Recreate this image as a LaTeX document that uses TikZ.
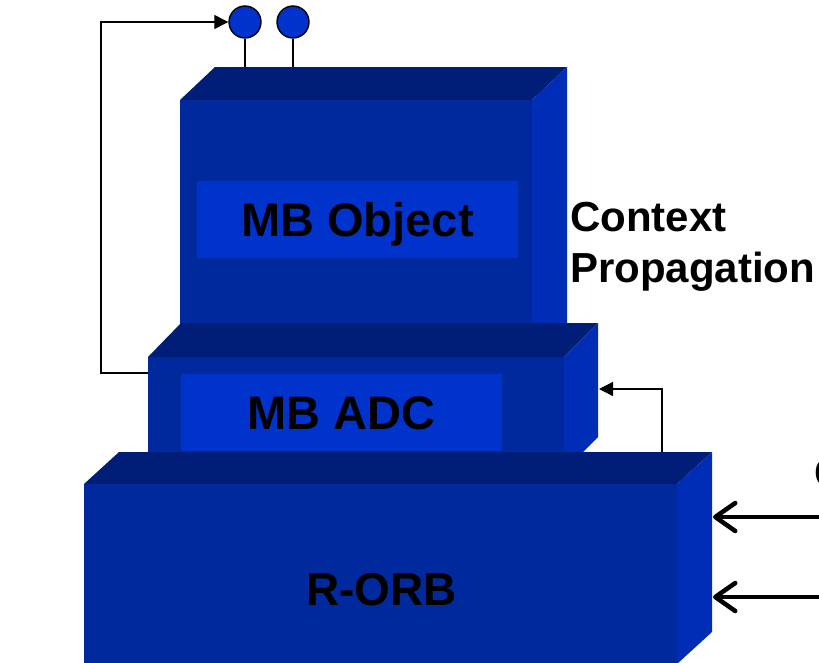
\documentclass[tikz,border=0pt]{standalone}
\usepackage{fontspec}
\setmainfont{Liberation Sans}
\usetikzlibrary{arrows.meta}
\definecolor{frontblue}{HTML}{00299E}
\definecolor{sideblue}{HTML}{002DB6}
\definecolor{topblue}{HTML}{001E78}
\definecolor{labelblue}{HTML}{0032CC}
\tikzset{
  frontface/.style={fill=frontblue, draw=none, inner sep=0pt, outer sep=0pt},
  topface/.style={fill=topblue},
  sideface/.style={fill=sideblue},
  labelbox/.style={fill=labelblue, draw=none, inner sep=0pt, outer sep=0pt,
    font=\fontsize{47}{50}\selectfont\bfseries, text height=34pt, text depth=0pt},
  pinball/.style={circle, fill=labelblue, draw=black, line width=1.4pt,
    minimum size=32pt, inner sep=0pt},
  thin link/.style={draw=black, line width=1.3pt},
  feed/.style={thin link, -{Triangle[length=14pt,width=14pt]}},
  inflow/.style={draw=black, line width=4.5pt,
    -{Straight Barb[length=20pt,width=28pt,line cap=round,line join=round]}},
  note/.style={font=\fontsize{42}{48}\selectfont\bfseries, inner sep=0pt, align=left}
}
\begin{document}
\begin{tikzpicture}[x=1pt, y=-1pt]
\useasboundingbox (0,0) rectangle (819,662);

% ---- MB Object block (back) ----
\node[frontface, minimum width=352pt, minimum height=262pt] (obj) at (356,231) {};
\fill[topface] (obj.north west) -- ++(35,-33) -- ([xshift=35pt,yshift=33pt]obj.north east) -- (obj.north east) -- cycle;
\fill[sideface] (obj.north east) -- ++(35,-33) -- ([xshift=35pt,yshift=33pt]obj.south east) -- (obj.south east) -- cycle;
\node[labelbox, minimum width=321pt, minimum height=77pt] (objlbl) at (357.5,219.5) {MB Object};

% ---- MB ADC block (middle) ----
\node[frontface, minimum width=416pt, minimum height=114pt] (adc) at (356,414) {};
\fill[topface] (adc.north west) -- ++(33,-34) -- ([xshift=34pt,yshift=34pt]adc.north east) -- (adc.north east) -- cycle;
\fill[sideface] (adc.north east) -- ++(34,-34) -- ([xshift=34pt,yshift=34pt]adc.south east) -- (adc.south east) -- cycle;
\node[labelbox, minimum width=321pt, minimum height=77pt] (adclbl) at (341.5,412.5) {MB ADC};

% ---- R-ORB block (front) ----
\node[frontface, minimum width=593pt, minimum height=180pt] (orb) at (380.5,574) {};
\fill[topface] (orb.north west) -- ++(35,-32) -- ([xshift=35pt,yshift=32pt]orb.north east) -- (orb.north east) -- cycle;
\fill[sideface] (orb.north east) -- ++(35,-32) -- ([xshift=35pt,yshift=32pt]orb.south east) -- (orb.south east) -- cycle;
\node[font=\fontsize{46}{50}\selectfont\bfseries, inner sep=0pt, text height=33pt, text depth=0pt] (orbtxt) at (381.5,589) {R-ORB};

% ---- pins on top of MB Object ----
\node[pinball] (pinA) at (245,22) {};
\node[pinball] (pinB) at (293,22) {};
\coordinate (objback) at (0,67);
\draw[thin link] (pinA.south) -- (pinA.south |- objback);
\draw[thin link] (pinB.south) -- (pinB.south |- objback);

% ---- loop from MB ADC back to the first pin ----
\coordinate (adcexit) at (148,373);
\coordinate (loopx) at (101,373);
\draw[feed] (adcexit) -- (loopx) |- (pinA.west);

% ---- link from R-ORB up to MB ADC side ----
\coordinate (orbexit) at (662,452);
\coordinate (adcside) at (599,389);
\draw[feed] (orbexit) |- (adcside);

% ---- context propagation note ----
\node[note, anchor=base west] (ctx) at (570,282) {Context\\[3pt]Propagation};

% ---- incoming calls on the right ----
\coordinate (inA) at (830,517);
\coordinate (inB) at (830,597);
\coordinate (orbA) at (713,517);
\coordinate (orbB) at (713,597);
\draw[inflow] (inA) -- (orbA);
\draw[inflow] (inB) -- (orbB);
\node[note, anchor=base west] (clientlbl) at (814,487) {C};
\end{tikzpicture}
\end{document}
